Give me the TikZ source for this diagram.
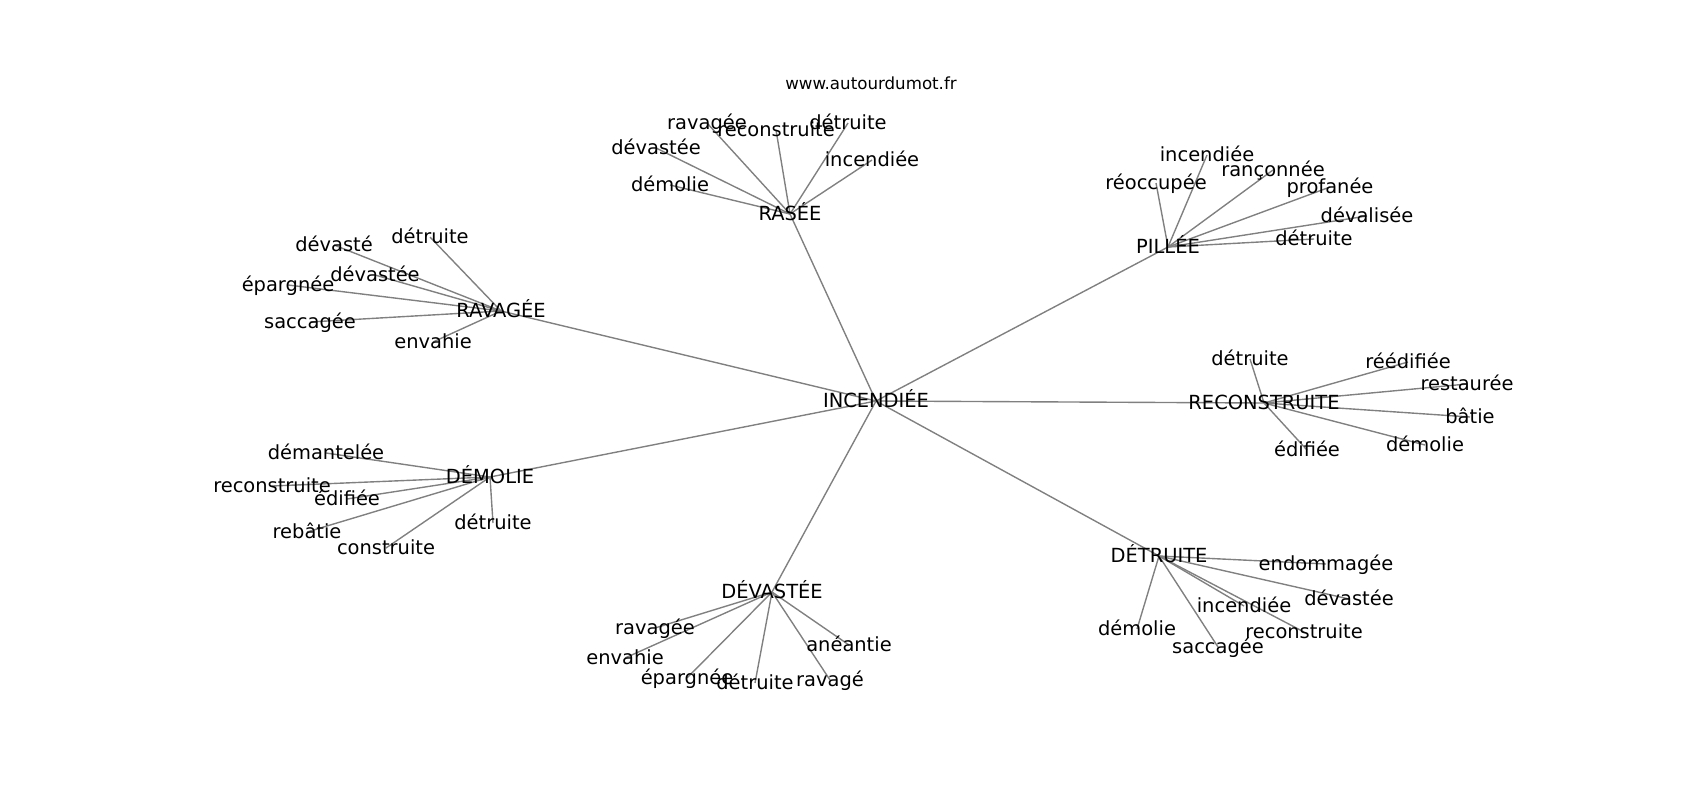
\documentclass[tikz,border=0pt]{standalone}
\usepackage{fontspec}
\setmainfont{DejaVu Sans}
\pgfdeclarelayer{bg}
\pgfsetlayers{bg,main}
\begin{document}
\begin{tikzpicture}[x=0.72pt,y=-0.72pt,
  lbl/.style={inner sep=0pt,anchor=center,text height=0.95em,text depth=0.07em,font=\fontsize{14}{16}\selectfont},
  edge/.style={draw=gray,line width=1pt}]
\useasboundingbox (0,0) rectangle (1700,800);
\node[inner sep=0pt,font=\fontsize{12}{14}\selectfont] (title) at (871,83) {www.autourdumot.fr};
% hubs
\node[lbl] (c) at (876,401) {INCENDIÉE};
\node[lbl] (ras) at (790,214) {RASÉE};
\node[lbl] (pil) at (1168,247) {PILLÉE};
\node[lbl] (rav) at (501,311) {RAVAGÉE};
\node[lbl] (rec) at (1264,403) {RECONSTRUITE};
\node[lbl] (dem) at (490,477) {DÉMOLIE};
\node[lbl] (dev) at (772,592) {DÉVASTÉE};
\node[lbl] (det) at (1159,556) {DÉTRUITE};
% RASÉE leaves
\node[lbl] (ras1) at (707,123) {ravagée};
\node[lbl] (ras2) at (776,130) {reconstruite};
\node[lbl] (ras3) at (848,123) {détruite};
\node[lbl] (ras4) at (656,148) {dévastée};
\node[lbl] (ras5) at (872,160) {incendiée};
\node[lbl] (ras6) at (670,185) {démolie};
% PILLÉE leaves
\node[lbl] (pil1) at (1207,155) {incendiée};
\node[lbl] (pil2) at (1273,170) {rançonnée};
\node[lbl] (pil3) at (1156,183) {réoccupée};
\node[lbl] (pil4) at (1330,187) {profanée};
\node[lbl] (pil5) at (1367,216) {dévalisée};
\node[lbl] (pil6) at (1314,239) {détruite};
% RAVAGÉE leaves
\node[lbl] (rav1) at (334,245) {dévasté};
\node[lbl] (rav2) at (430,237) {détruite};
\node[lbl] (rav3) at (375,275) {dévastée};
\node[lbl] (rav4) at (288,285) {épargnée};
\node[lbl] (rav5) at (310,322) {saccagée};
\node[lbl] (rav6) at (433,342) {envahie};
% RECONSTRUITE leaves
\node[lbl] (rec1) at (1250,359) {détruite};
\node[lbl] (rec2) at (1408,362) {réédifiée};
\node[lbl] (rec3) at (1467,384) {restaurée};
\node[lbl] (rec4) at (1470,417) {bâtie};
\node[lbl] (rec5) at (1307,450) {édifiée};
\node[lbl] (rec6) at (1425,445) {démolie};
% DÉMOLIE leaves
\node[lbl] (dem1) at (326,453) {démantelée};
\node[lbl] (dem2) at (272,486) {reconstruite};
\node[lbl] (dem3) at (347,499) {édifiée};
\node[lbl] (dem4) at (307,532) {rebâtie};
\node[lbl] (dem5) at (386,548) {construite};
\node[lbl] (dem6) at (493,523) {détruite};
% DÉVASTÉE leaves
\node[lbl] (dev1) at (655,628) {ravagée};
\node[lbl] (dev2) at (625,658) {envahie};
\node[lbl] (dev3) at (687,678) {épargnée};
\node[lbl] (dev4) at (755,683) {détruite};
\node[lbl] (dev5) at (830,680) {ravagé};
\node[lbl] (dev6) at (849,645) {anéantie};
% DÉTRUITE leaves
\node[lbl] (det1) at (1326,564) {endommagée};
\node[lbl] (det2) at (1349,599) {dévastée};
\node[lbl] (det3) at (1244,606) {incendiée};
\node[lbl] (det4) at (1304,632) {reconstruite};
\node[lbl] (det5) at (1137,629) {démolie};
\node[lbl] (det6) at (1218,647) {saccagée};
% edges, behind the labels
\begin{pgfonlayer}{bg}
\foreach \h in {ras,pil,rav,rec,dem,dev,det}{
  \draw[edge] (c.center) -- (\h.center);
  \foreach \i in {1,...,6}{
    \draw[edge] (\h.center) -- (\h\i.center);
  }
}
\end{pgfonlayer}
\end{tikzpicture}
\end{document}
